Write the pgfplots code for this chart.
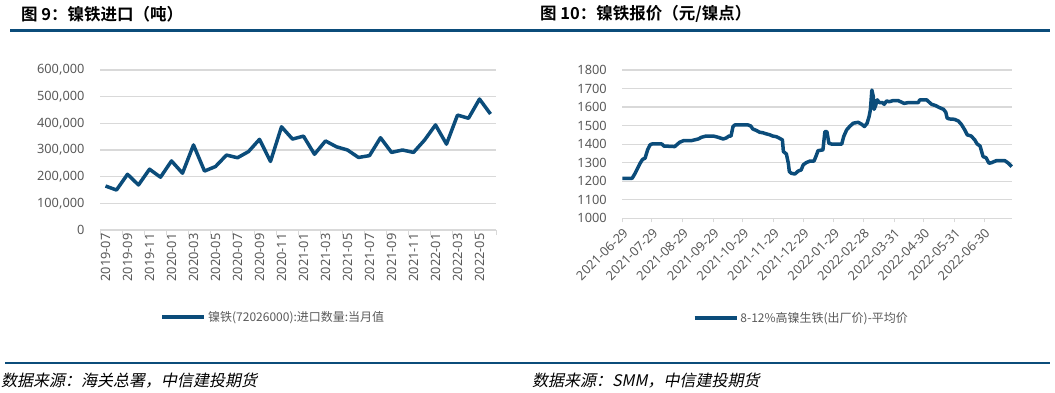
\documentclass[border=0pt]{standalone}
\usepackage{fontspec}
\usepackage{pgfplots}
\pgfplotsset{compat=1.18}
\setmainfont{Noto Sans}
\newfontfamily\cjk{Noto Sans CJK SC}[BoldFont={Noto Sans CJK SC Bold}]
\newfontfamily\cjkit{Noto Sans CJK SC}[FakeSlant=0.2]
\definecolor{lineblue}{HTML}{0B4C7A}
\definecolor{rulecol}{HTML}{0B4C7A}
\definecolor{tickgray}{HTML}{595959}
\definecolor{gridgray}{HTML}{D9D9D9}
\pgfplotsset{
 mystyle/.style={
  scale only axis, anchor=south west,
  axis x line*=bottom, axis y line*=left,
  y axis line style={draw=none},
  x axis line style={draw=gridgray, line width=1.2pt},
  ymajorgrids, grid style={draw=gridgray, line width=1.2pt},
  ytick style={draw=none},
  xtick style={draw=gridgray, line width=1pt},
  tick align=outside,
  ticklabel style={font=\fontsize{12.8}{12.8}\selectfont, text=tickgray},
  /pgf/number format/assume math mode=true,
  legend style={draw=none, fill=none, font=\cjk\fontsize{12}{12}\selectfont, text=tickgray, anchor=center},
  legend image code/.code={\draw[#1] (0pt,0pt) -- (42pt,0pt);},
  clip=false,
 }
}
\begin{document}
\begin{tikzpicture}[x=1pt,y=1pt]
\path[use as bounding box] (0,0) rectangle (1055,392);
\node[anchor=west, font=\cjk\bfseries\fontsize{16.5}{16.5}\selectfont, inner sep=0pt] at (21,378) {图 9：镍铁进口（吨）};
\node[anchor=west, font=\cjk\bfseries\fontsize{16.5}{16.5}\selectfont, inner sep=0pt] at (540,378) {图 10：镍铁报价（元/镍点）};
\draw[rulecol, line width=3pt] (10,361) -- (1050,361);
\draw[rulecol, line width=2.5pt] (5,29) -- (1050,29);
\node[anchor=west, font=\cjkit\fontsize{16}{16}\selectfont, inner sep=0pt] at (1,11) {数据来源：海关总署，中信建投期货};
\node[anchor=west, font=\cjkit\fontsize{16}{16}\selectfont, inner sep=0pt] at (532,11) {数据来源：SMM，中信建投期货};

\begin{axis}[mystyle, at={(100pt,162pt)}, width=396pt, height=160pt,
 xmin=-0.5, xmax=35.5, ymin=0, ymax=600000,
 ytick={0,100000,200000,300000,400000,500000,600000},
 scaled y ticks=false,
 yticklabel style={xshift=-12pt, /pgf/number format/.cd, fixed, 1000 sep={,}},
 xtick={0,2,...,34}, major tick length=0pt,
 minor xtick={-0.5,1.5,...,35.5}, minor tick length=5pt,
 xticklabels={2019-07,2019-09,2019-11,2020-01,2020-03,2020-05,2020-07,2020-09,2020-11,2021-01,2021-03,2021-05,2021-07,2021-09,2021-11,2022-01,2022-03,2022-05},
 xticklabel style={rotate=90, anchor=east},
 legend style={at={(0.438,-0.544)}},
]
\addplot[lineblue, line width=3.5pt, line join=round] coordinates {
(0,165000)(1,150000)(2,209000)(3,169000)(4,228000)(5,198000)(6,259000)(7,213000)
(8,319000)(9,221000)(10,238000)(11,281000)(12,271000)(13,294000)(14,340000)(15,257000)
(16,387000)(17,341000)(18,352000)(19,284000)(20,334000)(21,312000)(22,300000)(23,272000)
(24,279000)(25,346000)(26,291000)(27,300000)(28,291000)(29,337000)(30,394000)(31,322000)
(32,431000)(33,419000)(34,491000)(35,435000)};
\addlegendentry{镍铁(72026000):进口数量:当月值}
\end{axis}

\begin{axis}[mystyle, at={(622.3pt,173.7pt)}, width=389.4pt, height=148.3pt,
 xmin=0, xmax=394, ymin=1000, ymax=1800,
 ytick={1000,1100,...,1800},
 yticklabel style={xshift=-8pt, /pgf/number format/.cd, fixed, 1000 sep={}},
 xtick={0,30,61,92,122,153,183,214,244,275,305,336,366},
 major tick length=4pt,
 xticklabels={2021-06-29,2021-07-29,2021-08-29,2021-09-29,2021-10-29,2021-11-29,2021-12-29,2022-01-29,2022-02-28,2022-03-31,2022-04-30,2022-05-31,2022-06-30},
 xticklabel style={rotate=45, anchor=north east},
 legend style={at={(0.46,-0.672)}},
]
\addplot[lineblue, line width=3.5pt, line join=round] coordinates {
(0,1216)(10,1216)(13,1243)(15.5,1270)(18,1297)(20.5,1318)(23,1324)(25.6,1369)(28,1396)
(30,1401)(40,1401)(42,1390)(53,1387)(55,1396)(58,1410)(62,1419)(70,1419)(73,1423)
(77,1428)(80,1437)(85,1444)(92,1444)(97,1437)(102,1428)(105,1433)(108,1444)(110,1444)
(112,1495)(114,1504)(127,1504)(130,1498)(132,1482)(136,1473)(139,1464)(142,1462)
(146,1455)(149,1451)(152,1444)(156,1440)(159,1432)(162,1423)(163,1360)(166,1347)
(168,1297)(169,1252)(171,1243)(174.6,1239)(178,1255)(181,1261)(183,1288)(186,1300)
(190,1309)(194,1309)(196.5,1342)(198,1365)(203,1369)(205,1468)(207,1468)(209,1405)
(212,1400)(222,1400)(224,1441)(227,1477)(230,1495)(233.6,1513)(238.6,1518)(242,1508)
(245,1495)(247.7,1513)(249.7,1549)(251,1585)(252.5,1692)(254,1656)(254.8,1588)
(256.5,1612)(258,1639)(260,1624)(263.4,1624)(265,1615)(267.4,1633)(270,1629)(274,1635)
(279,1635)(282,1628)(285,1620)(289.3,1624)(299.4,1624)(301,1639)(308,1639)(310.6,1626)
(313,1615)(317,1608)(321,1597)(325,1588)(327.3,1572)(328.7,1540)(331,1536)(336,1534)
(340,1525)(343,1507)(346.5,1477)(349,1450)(353,1444)(356.6,1423)(359,1401)(362,1390)
(365,1333)(368,1327)(371,1297)(373.5,1300)(378.5,1311)(387,1311)(390,1300)(394,1279)};
\addlegendentry{8-12\%高镍生铁(出厂价)-平均价}
\end{axis}
\end{tikzpicture}
\end{document}
